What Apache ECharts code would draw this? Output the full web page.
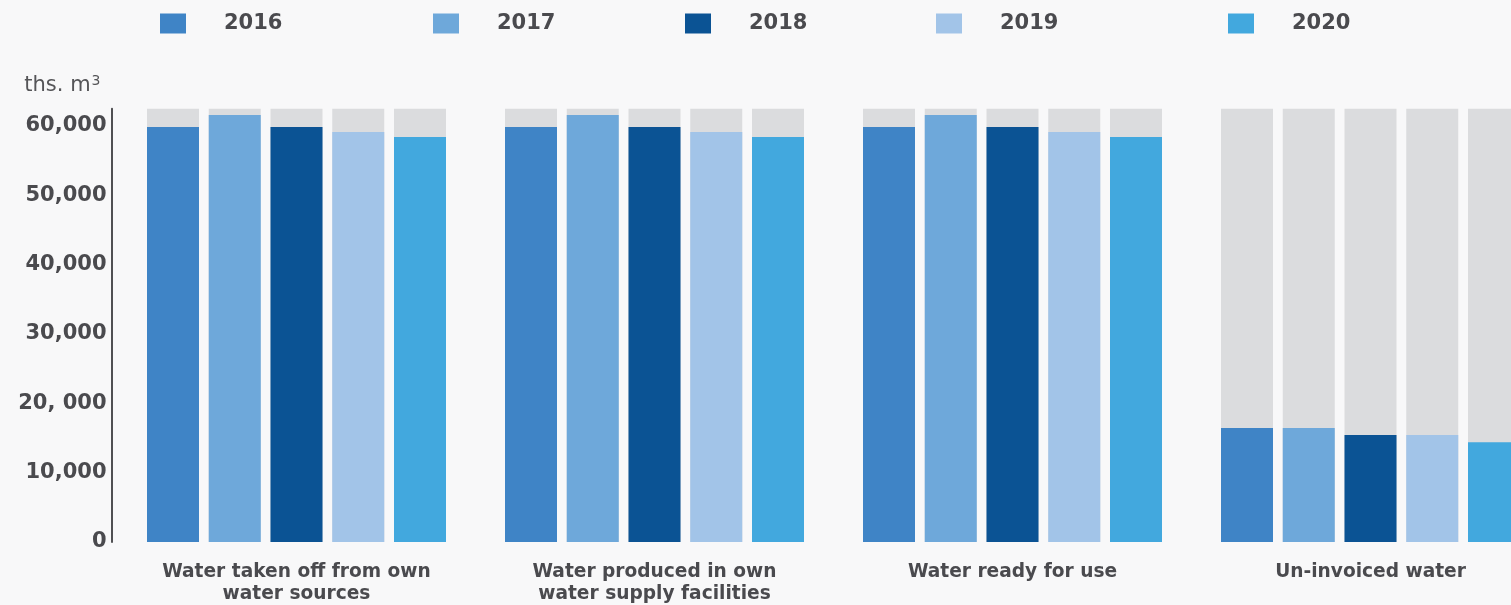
<!DOCTYPE html>
<html>
<head>
<meta charset="utf-8">
<title>Water balance 2016–2020</title>
<script src="https://cdn.jsdelivr.net/npm/echarts@6/dist/echarts.min.js"></script>
<style>
  html, body { margin: 0; padding: 0; background: #f8f8f9; }
  #chart { width: 1511px; height: 605px; }
</style>
</head>
<body>
<div id="chart"></div>
<script>
// Water volumes, thousand cubic metres
const categories = [
  'Water taken off from own\nwater sources',
  'Water produced in own\nwater supply facilities',
  'Water ready for use',
  'Un-invoiced water'
];
const years = ['2016', '2017', '2018', '2019', '2020'];
const values2016 = [59850, 59850, 59850, 16450];
const values2017 = [61600, 61600, 61600, 16450];
const values2018 = [59850, 59850, 59850, 15450];
const values2019 = [59150, 59150, 59150, 15450];
const values2020 = [58400, 58400, 58400, 14400];
const tickValues = [0, 10000, 20000, 30000, 40000, 50000, 60000];
const tickLabels = ['0', '10,000', '20, 000', '30,000', '40,000', '50,000', '60,000'];
const scaleMax = 62500;

const seriesValues = [values2016, values2017, values2018, values2019, values2020];
const yearColors = ['#3f84c6', '#6ea8da', '#0b5394', '#a2c4e8', '#42a8de'];
const legendLeft = [160, 433, 685, 936, 1228];

const FONT = '"DejaVu Sans", Verdana, sans-serif';
const TEXT = '#4a4a4e';

const chart = echarts.init(document.getElementById('chart'), null, { renderer: 'canvas' });

const option = {
  backgroundColor: '#f8f8f9',
  animation: false,
  textStyle: { fontFamily: FONT },
  legend: years.map((y, i) => ({
    data: [y],
    left: legendLeft[i],
    top: 13,
    padding: 0,
    icon: 'rect',
    itemWidth: 26,
    itemHeight: 20,
    selectedMode: false,
    textStyle: {
      fontFamily: FONT,
      fontSize: 21,
      fontWeight: 'bold',
      color: TEXT,
      padding: [0, 0, 0, 33]
    }
  })),
  grid: {
    left: 117.5,
    width: 1432,
    top: 108.7,
    bottom: 63,
    containLabel: false,
    outerBoundsMode: 'none'
  },
  xAxis: {
    type: 'category',
    data: categories,
    axisLine: { show: false },
    axisTick: { show: false },
    splitLine: { show: false },
    axisLabel: {
      interval: 0,
      margin: 19,
      fontFamily: FONT,
      fontSize: 18.6,
      fontWeight: 'bold',
      lineHeight: 22,
      color: TEXT
    }
  },
  yAxis: {
    type: 'value',
    min: 0,
    max: scaleMax,
    interval: 10000,
    offset: 6,
    name: '{a|ths. m}{s|3}',
    nameLocation: 'end',
    nameGap: 23,
    nameTextStyle: {
      align: 'right',
      verticalAlign: 'middle',
      padding: [0, 11, 0, 0],
      rich: {
        a: { fontFamily: FONT, fontSize: 21, color: '#555558' },
        s: { fontFamily: FONT, fontSize: 14, color: '#555558', verticalAlign: 'top', padding: [0, 0, 8, 1] }
      }
    },
    axisLine: { show: true, lineStyle: { color: '#505053', width: 2 } },
    axisTick: { show: false },
    splitLine: { show: false },
    axisLabel: {
      margin: 5,
      fontFamily: FONT,
      fontSize: 21,
      fontWeight: 'bold',
      color: TEXT,
      padding: [0, 0, 16, 0],
      formatter: (v) => {
        const k = tickValues.indexOf(v);
        return k >= 0 ? tickLabels[k] : '';
      }
    }
  },
  series: years.map((y, i) => ({
    name: y,
    type: 'bar',
    data: seriesValues[i],
    barWidth: 52,
    barGap: '18.75%',
    itemStyle: { color: yearColors[i] },
    showBackground: true,
    backgroundStyle: { color: '#dbdcde' }
  }))
};

chart.setOption(option);
</script>
</body>
</html>
